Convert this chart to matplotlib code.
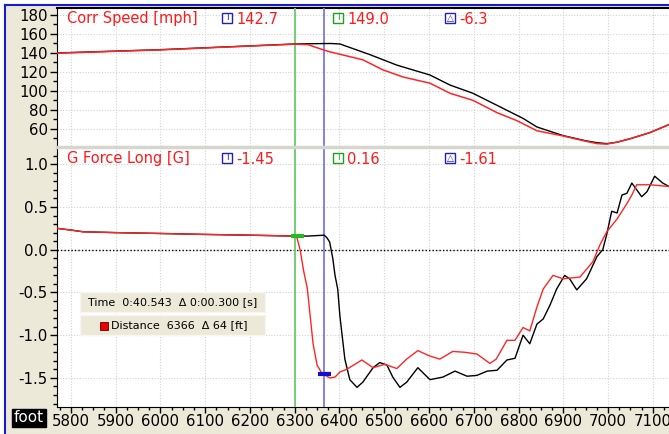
import matplotlib
matplotlib.use("Agg")
import matplotlib.pyplot as plt
from matplotlib.patches import Rectangle
from matplotlib.lines import Line2D
from matplotlib.ticker import MultipleLocator, AutoMinorLocator, FormatStrFormatter

plt.rcParams['font.family'] = ['DejaVu Sans']
plt.rcParams['axes.unicode_minus'] = False

W, H = 669, 434

# Speed trace, current lap (red) and reference lap (black)
speed_red_dist = [5769, 5800, 5900, 6000, 6100, 6200, 6300, 6330, 6345, 6366, 6378, 6452,
                  6497, 6542, 6602, 6647, 6698, 6752, 6796, 6841, 6899, 6950, 6975, 6997,
                  7020, 7049, 7093, 7136]
speed_red = [139.5, 140, 141.5, 143, 145, 147, 149, 148.5, 146, 142.7, 141, 132.6,
             122, 114.5, 108, 97.4, 90, 77, 68.7, 58, 52.6, 47, 44.5, 44,
             46, 49.6, 56, 64.5]

speed_blk_dist = [5769, 5800, 5900, 6000, 6100, 6200, 6300, 6340, 6380, 6401, 6468, 6528,
                  6602, 6647, 6698, 6752, 6810, 6841, 6899, 6950, 6975, 6997, 7020, 7049,
                  7093, 7136]
speed_blk = [139.7, 140.2, 141.7, 143.2, 145.2, 147.2, 149.2, 149.5, 149.7, 149.2, 138, 127,
             116.6, 106, 97.4, 84.7, 71, 62, 53, 47.5, 45.5, 44.5, 46, 49.6,
             56, 64.5]

# Longitudinal G, current lap (red) and reference lap (black)
g_red_dist = [5769, 5800, 5827, 5900, 6000, 6088, 6200, 6296, 6305, 6312, 6320, 6328,
              6335, 6341, 6350, 6360, 6366, 6378, 6390, 6401, 6416, 6450, 6475, 6501,
              6528, 6550, 6575, 6600, 6624, 6653, 6680, 6707, 6736, 6750, 6774, 6792,
              6810, 6825, 6841, 6855, 6877, 6899, 6937, 6966, 6982, 6997, 7020, 7042,
              7053, 7064, 7093, 7136]
g_red = [0.25, 0.23, 0.21, 0.20, 0.19, 0.18, 0.17, 0.16, 0.14, 0.0, -0.25, -0.45,
         -0.8, -1.1, -1.35, -1.44, -1.46, -1.5, -1.49, -1.43, -1.40, -1.29, -1.38, -1.34,
         -1.39, -1.28, -1.18, -1.24, -1.28, -1.19, -1.20, -1.22, -1.33, -1.28, -1.06, -1.06,
         -0.91, -0.95, -0.67, -0.46, -0.30, -0.34, -0.32, -0.14, 0.06, 0.21, 0.36, 0.54,
         0.64, 0.76, 0.76, 0.74]

g_blk_dist = [5769, 5800, 5827, 5900, 6000, 6088, 6200, 6296, 6330, 6366, 6372, 6378,
              6385, 6390, 6396, 6401, 6412, 6423, 6439, 6452, 6475, 6490, 6506, 6519,
              6535, 6550, 6575, 6602, 6631, 6658, 6685, 6707, 6730, 6752, 6774, 6792,
              6810, 6825, 6841, 6855, 6870, 6885, 6903, 6914, 6930, 6952, 6975, 6988,
              6997, 7008, 7020, 7031, 7042, 7053, 7075, 7087, 7104, 7122, 7136]
g_blk = [0.25, 0.23, 0.21, 0.20, 0.19, 0.18, 0.17, 0.16, 0.16, 0.17, 0.14, 0.09,
         -0.1, -0.3, -0.46, -0.78, -1.28, -1.52, -1.61, -1.55, -1.38, -1.32, -1.35, -1.49,
         -1.61, -1.55, -1.38, -1.52, -1.49, -1.42, -1.48, -1.47, -1.42, -1.41, -1.29, -1.27,
         -1.0, -1.1, -0.87, -0.81, -0.65, -0.46, -0.30, -0.34, -0.47, -0.34, -0.08, 0.0,
         0.18, 0.45, 0.43, 0.64, 0.66, 0.78, 0.62, 0.68, 0.86, 0.78, 0.74]

# Cursor positions and readouts
cursor_a = 6366
cursor_b = 6300
speed_labels = ['142.7', '149.0', '-6.3']
g_labels = ['-1.45', '0.16', '-1.61']
g_at_a = -1.45
g_at_b = 0.16
x_ticks = list(range(5800, 7200, 100))


def fx(px):
    return px / W


def fy(py):
    return 1 - py / H


fig = plt.figure(figsize=(W / 100, H / 100), dpi=100)
fig.patch.set_facecolor('white')

# beige window background, blue frame
fig.patches.append(Rectangle((fx(5), 0), 1 - fx(5), fy(5), transform=fig.transFigure,
                             facecolor='#ece9d8', edgecolor='none', zorder=-2))
fig.lines.append(Line2D([fx(5), 1], [fy(5), fy(5)], transform=fig.transFigure,
                        color='#1a1ad0', lw=1.5, zorder=3))
fig.lines.append(Line2D([fx(5), fx(5)], [0, fy(5)], transform=fig.transFigure,
                        color='#1a1ad0', lw=1.5, zorder=3))

ax1 = fig.add_axes([fx(57), fy(146), 1 - fx(57), fy(8) - fy(146)])
ax2 = fig.add_axes([fx(57), fy(407), 1 - fx(57), fy(148) - fy(407)])

xmin, xmax = 5769, 7136
grid_kw = dict(color='#d2d2d2', linestyle=(0, (1, 1.5)), lw=0.8)

for ax in (ax1, ax2):
    ax.set_facecolor('white')
    ax.set_xlim(xmin, xmax)
    ax.xaxis.set_major_locator(MultipleLocator(100))
    ax.xaxis.set_minor_locator(AutoMinorLocator(4))
    ax.grid(True, which='major', **grid_kw)
    ax.set_axisbelow(True)
    for s in ('right', 'top', 'bottom'):
        ax.spines[s].set_visible(False)
    ax.spines['left'].set_color('black')
    ax.tick_params(axis='y', which='major', direction='out', length=5, width=1,
                   labelsize=10.8, pad=1.5)
    ax.tick_params(axis='y', which='minor', direction='out', length=3, width=1)
    # cursors
    ax.axvline(cursor_b, color='#6ccc6c', lw=1.3, zorder=4)
    ax.axvline(cursor_a, color='#7a7ae0', lw=1.3, zorder=4)

ax1.spines['top'].set_visible(True)
ax1.spines['top'].set_color('black')
ax1.spines['top'].set_linewidth(1.5)

# top panel: speed
ax1.plot(speed_blk_dist, speed_blk, color='black', lw=1.0, zorder=5)
ax1.plot(speed_red_dist, speed_red, color='#ff2525', lw=1.1, zorder=6)
ax1.set_ylim(42, 187)
ax1.yaxis.set_major_locator(MultipleLocator(20))
ax1.yaxis.set_minor_locator(AutoMinorLocator(2))
ax1.set_yticks(range(60, 181, 20))
ax1.tick_params(axis='x', which='both', length=0, labelbottom=False)

# bottom panel: G force long
ax2.axhline(0, color='black', linestyle=(0, (1, 1.5)), lw=1.0, zorder=2)
ax2.plot(g_blk_dist, g_blk, color='black', lw=1.0, zorder=5)
ax2.plot(g_red_dist, g_red, color='#ff2525', lw=1.0, zorder=6)
ax2.plot([6291, 6320], [g_at_b, g_at_b], color='#22bb22', lw=3, solid_capstyle='butt', zorder=7)
ax2.plot([6352, 6381], [g_at_a, g_at_a], color='#1010d0', lw=3, solid_capstyle='butt', zorder=7)
ax2.set_ylim(-1.84, 1.19)
ax2.set_yticks([-1.5, -1.0, -0.5, 0.0, 0.5, 1.0])
ax2.yaxis.set_minor_locator(AutoMinorLocator(5))
ax2.yaxis.set_major_formatter(FormatStrFormatter('%.1f'))
ax2.spines['bottom'].set_visible(True)
ax2.spines['bottom'].set_color('black')
ax2.set_xticks(x_ticks)
ax2.tick_params(axis='x', which='major', direction='out', length=4, width=1,
                labelsize=10.8, pad=1)
ax2.tick_params(axis='x', which='minor', direction='out', length=2.5, width=1)

# separator between the panels
fig.lines.append(Line2D([fx(57), 1], [fy(146.5), fy(146.5)], transform=fig.transFigure,
                        color='#d6d6ce', lw=2.5, zorder=3))


def cursor_icon(px, py, color, sym):
    fig.patches.append(Rectangle((fx(px), fy(py + 5)), 10 / W, 10 / H, transform=fig.transFigure,
                                 facecolor='white', edgecolor=color, lw=1.0, zorder=8))
    fig.text(fx(px + 5), fy(py), sym, color=color, fontsize=6.5, ha='center', va='center',
             zorder=9)


def header(py, title, values):
    fig.text(fx(67), fy(py), title, color='#ff1a1a', fontsize=10.5, va='center', zorder=9)
    icons = [(222, '#2020c0', 'I'), (333, '#20a020', 'I'), (445, '#2020c0', '\u25b3')]
    for (ix, col, sym), val in zip(icons, values):
        cursor_icon(ix, py - 1, col, sym)
        fig.text(fx(ix + 14), fy(py), val, color='#ff1a1a', fontsize=10.5, va='center', zorder=9)


header(19, 'Corr Speed [mph]', speed_labels)
header(159, 'G Force Long [G]', g_labels)

# info boxes
for top, bottom in ((292, 312), (315, 335)):
    fig.patches.append(Rectangle((fx(80), fy(bottom)), (265 - 80) / W, (bottom - top) / H,
                                 transform=fig.transFigure, facecolor='#ece9d8',
                                 edgecolor='#f7f6f0', lw=1.0, zorder=8))
fig.text(fx(88), fy(302), 'Time  0:40.543  \u0394 0:00.300 [s]', fontsize=8,
         va='center', color='black', zorder=9)
fig.patches.append(Rectangle((fx(100), fy(330)), 8 / W, 8 / H, transform=fig.transFigure,
                             facecolor='#ee0000', edgecolor='#600000', lw=0.6, zorder=9))
fig.text(fx(111), fy(325), 'Distance  6366  \u0394 64 [ft]', fontsize=8,
         va='center', color='black', zorder=9)

# unit label
fig.text(fx(29), fy(418), 'foot', color='white', fontsize=11, ha='center', va='center',
         bbox=dict(boxstyle='square,pad=0.12', facecolor='black', edgecolor='black'), zorder=9)

fig.savefig('out.png', dpi=100, facecolor=fig.get_facecolor())
plt.close(fig)
